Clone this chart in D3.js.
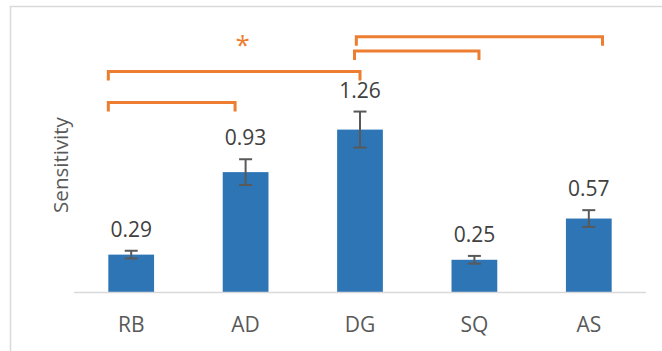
<!DOCTYPE html>
<html>
<head>
<meta charset="utf-8">
<script src="https://cdn.jsdelivr.net/npm/d3@7"></script>
<style>
  html, body { margin: 0; padding: 0; background: #fff; }
  svg { display: block; }
</style>
</head>
<body>
<svg id="chart" width="662" height="351"></svg>
<script>
// Sensitivity per group with error bars
const categories = ["RB", "AD", "DG", "SQ", "AS"];
const values = [0.29, 0.93, 1.26, 0.25, 0.57];
const errors = [0.03, 0.10, 0.14, 0.03, 0.065];

// Significance brackets: category pair, height (in sensitivity units), anchor inside each band
const brackets = [
  { from: "RB", to: "AD", level: 1.47, fromAt: 0.0, toAt: 0.27 },
  { from: "RB", to: "DG", level: 1.71, fromAt: 0.0, toAt: 0.5 },
  { from: "DG", to: "SQ", level: 1.87, fromAt: 0.38, toAt: 0.6 },
  { from: "DG", to: "AS", level: 1.98, fromAt: 0.42, toAt: 0.8 }
];
const starMark = { at: "AD", level: 1.97, text: "*" };

const svg = d3.select("#chart");
const W = 662, H = 351;

// chart frame
svg.append("rect")
  .attr("x", 10.5).attr("y", 6.5)
  .attr("width", W + 20).attr("height", H + 20)
  .attr("fill", "none").attr("stroke", "#d9d9d9").attr("stroke-width", 1.5);

const x = d3.scaleBand().domain(categories).range([74, 646])
  .paddingInner(0.6).paddingOuter(0.3);
const y = d3.scaleLinear().domain([0, 1.8]).range([292, 60]);
const mid = c => x(c) + x.bandwidth() / 2;

const data = categories.map((c, i) => ({ cat: c, v: values[i], e: errors[i] }));

// bars
svg.append("g").selectAll("rect").data(data).join("rect")
  .attr("x", d => x(d.cat))
  .attr("y", d => y(d.v))
  .attr("width", x.bandwidth())
  .attr("height", d => y(0) - y(d.v))
  .attr("fill", "#2E75B6");

// category axis
const xAxis = svg.append("g").attr("transform", `translate(0,${y(0)})`)
  .call(d3.axisBottom(x).tickSize(0).tickPadding(0));
xAxis.select(".domain").attr("stroke", "#d9d9d9").attr("stroke-width", 1.5)
  .attr("d", `M74,0.5H646`);
xAxis.selectAll("text")
  .attr("dy", null).attr("y", 40)
  .attr("fill", "#595959")
  .style("font-family", "'Open Sans', sans-serif")
  .style("font-size", "21px");

// error bars
const eb = svg.append("g").attr("stroke", "#595959").attr("stroke-width", 2).attr("fill", "none");
const cap = 6.5;
data.forEach(d => {
  const cx = mid(d.cat);
  eb.append("line").attr("x1", cx).attr("x2", cx).attr("y1", y(d.v + d.e)).attr("y2", y(d.v - d.e));
  eb.append("line").attr("x1", cx - cap).attr("x2", cx + cap).attr("y1", y(d.v + d.e)).attr("y2", y(d.v + d.e));
  eb.append("line").attr("x1", cx - cap).attr("x2", cx + cap).attr("y1", y(d.v - d.e)).attr("y2", y(d.v - d.e));
});

// value labels
svg.append("g").selectAll("text").data(data).join("text")
  .attr("x", d => mid(d.cat))
  .attr("y", d => y(d.v + d.e) - 14)
  .attr("text-anchor", "middle")
  .attr("fill", "#404040")
  .style("font-family", "'Open Sans', sans-serif")
  .style("font-size", "21px")
  .text(d => d.v.toFixed(2));

// y axis title
svg.append("text")
  .attr("transform", `translate(68,165) rotate(-90)`)
  .attr("text-anchor", "middle")
  .attr("fill", "#595959")
  .style("font-family", "'Open Sans', sans-serif")
  .style("font-size", "20.5px")
  .text("Sensitivity");

// significance brackets
const tick = 9;
const bg = svg.append("g").attr("stroke", "#ED7D31").attr("stroke-width", 3).attr("fill", "none")
  .attr("stroke-linejoin", "miter");
brackets.forEach(b => {
  const x1 = x(b.from) + b.fromAt * x.bandwidth();
  const x2 = x(b.to) + b.toAt * x.bandwidth();
  const yy = y(b.level);
  bg.append("path").attr("d", `M${x1},${yy + tick}V${yy}H${x2}V${yy + tick}`);
});

svg.append("text")
  .attr("x", mid(starMark.at) - 3)
  .attr("y", y(starMark.level) + 16)
  .attr("text-anchor", "middle")
  .attr("fill", "#ED7D31")
  .style("font-family", "'Open Sans', sans-serif")
  .style("font-size", "26px")
  .text(starMark.text);
</script>
</body>
</html>
